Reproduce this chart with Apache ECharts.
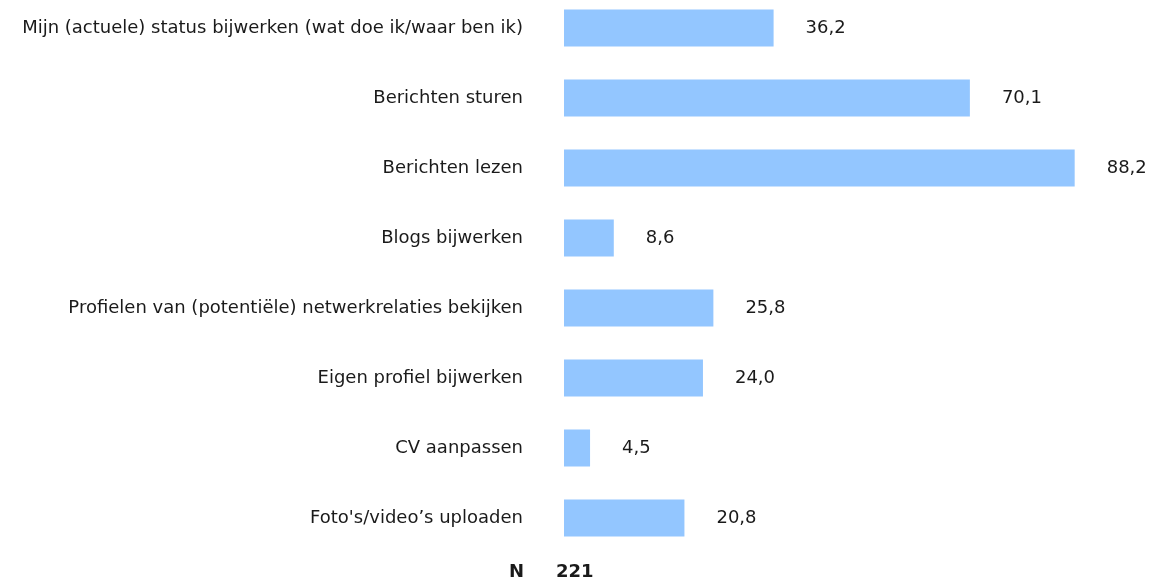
<!DOCTYPE html>
<html><head><meta charset="utf-8">
<script src="https://cdn.jsdelivr.net/npm/echarts@6/dist/echarts.min.js"></script>
<style>html,body{margin:0;padding:0;background:#fff;overflow:hidden}#c{position:absolute;left:0;top:-10px;width:1152px;height:592px}</style>
</head><body><div id="c"></div>
<script>
const categories = [
  "Mijn (actuele) status bijwerken (wat doe ik/waar ben ik)",
  "Berichten sturen",
  "Berichten lezen",
  "Blogs bijwerken",
  "Profielen van (potentiële) netwerkrelaties bekijken",
  "Eigen profiel bijwerken",
  "CV aanpassen",
  "Foto's/video’s uploaden"
];
const values = [36.2, 70.1, 88.2, 8.6, 25.8, 24.0, 4.5, 20.8];
const nLabel = "N";
const nValue = "221";

const chart = echarts.init(document.getElementById('c'));
const font = "'DejaVu Sans'";
chart.setOption({
  animation: false,
  grid: {left: 564, right: 9, top: 3, bottom: 29, containLabel: false},
  xAxis: {type: 'value', min: 0, max: 100, show: false},
  yAxis: {
    type: 'category', data: categories, inverse: true,
    axisLine: {show: false}, axisTick: {show: false},
    axisLabel: {margin: 41, color: '#1a1a1a', fontFamily: font, fontSize: 18}
  },
  series: [{
    type: 'bar', data: values, barWidth: 37,
    itemStyle: {color: '#93c6ff'},
    label: {show: true, position: 'right', distance: 32, color: '#1a1a1a',
      fontFamily: font, fontSize: 18,
      formatter: p => p.value.toFixed(1).replace('.', ',')}
  }],
  graphic: [
    {type: 'text', left: 509, top: 573, style: {text: nLabel, font: "bold 18px " + font, fill: '#1a1a1a'}},
    {type: 'text', left: 556, top: 573, style: {text: nValue, font: "bold 18px " + font, fill: '#1a1a1a'}}
  ]
});
</script></body></html>
